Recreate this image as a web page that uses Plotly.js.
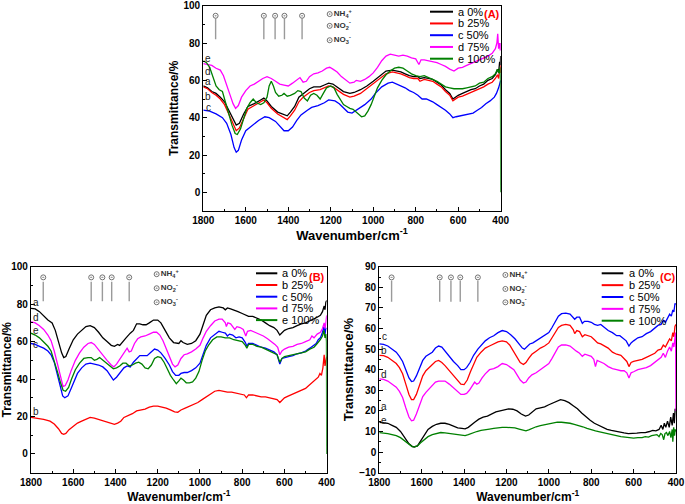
<!DOCTYPE html>
<html><head><meta charset="utf-8">
<script src="https://cdn.plot.ly/plotly-3.0.1.min.js"></script>
<style>html,body{margin:0;padding:0;background:#fff}#chart{width:685px;height:504px}</style>
</head><body><div id="chart"></div>
<script>
// ---------- data ----------
const seriesNames = ['a 0%', 'b 25%', 'c 50%', 'd 75%', 'e 100%'];
const seriesLetters = ['a', 'b', 'c', 'd', 'e'];
const seriesColors = ['#000000', '#ff0000', '#0000ff', '#ff00ff', '#008000'];
const panelTags = ['(A)', '(B)', '(C)'];

// Panel A: [wavenumber, transmittance]
const A_a = [[1800,57],[1780,56],[1760,54],[1740,53],[1720,51],[1700,48.5],[1680,44],[1660,39],[1645,36],[1630,37],[1610,42],[1590,46],[1560,47.5],[1530,49.5],[1515,50.5],[1500,49],[1480,46],[1450,43],[1420,41.5],[1405,41],[1390,43],[1370,46],[1350,51],[1330,53],[1300,55.5],[1280,56.5],[1250,56.5],[1230,57.5],[1210,58.5],[1190,58],[1170,56.5],[1140,54],[1110,53],[1090,53.5],[1060,55],[1030,57],[1000,59.5],[970,62.5],[940,65],[910,65.5],[890,65],[870,64.5],[850,63.5],[830,62.5],[810,62],[790,62],[780,61],[760,61.5],[740,61],[720,60.5],[700,59],[680,57.5],[660,55],[640,53],[625,50],[615,51],[600,52],[580,53],[560,54],[540,55],[520,55.5],[500,57],[480,58],[460,60],[440,61],[425,63],[415,66],[410,64],[405,70],[402,68],[400,73]];
const A_b = [[1800,56.5],[1780,55.5],[1760,53.5],[1740,52],[1720,50],[1700,47],[1680,42],[1660,36.5],[1645,33],[1630,34.5],[1610,40],[1590,44.5],[1560,46.5],[1530,48.5],[1515,49.5],[1500,48],[1480,45],[1450,42],[1420,40],[1405,39],[1390,41],[1370,44],[1350,48.5],[1330,51],[1300,53.5],[1280,54.5],[1250,55],[1230,56],[1210,57],[1190,56.5],[1170,55],[1140,52.5],[1110,51],[1090,51.5],[1060,53],[1030,55.5],[1000,58],[970,61],[940,63.5],[910,64.5],[890,64],[870,63.5],[850,62.5],[830,61.5],[810,61],[790,61],[780,59.5],[760,60.5],[740,60],[720,59.5],[700,58],[680,56.5],[660,54],[640,52],[625,49],[615,50],[600,51],[580,51.5],[560,52.5],[540,53.5],[520,54.5],[500,55.5],[480,56.5],[460,58],[440,59],[425,61],[415,63],[410,61],[405,66],[402,64],[400,68]];
const A_c = [[1800,44],[1770,43.5],[1740,42],[1710,40],[1690,37],[1670,31],[1655,24],[1645,21.5],[1635,22.5],[1620,28],[1600,33],[1580,35],[1560,36.5],[1540,38.5],[1510,40.5],[1490,40],[1460,38],[1440,35.5],[1420,33],[1400,33],[1380,35],[1360,38.5],[1340,41.5],[1310,44],[1290,45.5],[1260,46.5],[1230,48],[1210,49.5],[1180,49],[1160,47.5],[1140,45.5],[1120,43],[1100,42.5],[1080,44],[1060,45.5],[1040,47],[1010,50],[990,53],[960,56.5],[930,58.5],[910,59],[890,58],[870,57],[850,56],[830,54.5],[810,53.5],[790,52],[770,50],[750,50],[720,48.5],[700,47],[680,45.5],[660,44],[640,42],[625,40],[610,40.5],[590,41],[570,41.5],[550,42],[530,42.5],[510,44],[490,45.5],[470,47.5],[450,49],[430,51],[420,53],[410,56],[405,59],[400,60]];
const A_d = [[1800,69],[1780,68.5],[1760,68],[1740,66.5],[1720,65.5],[1705,62.5],[1690,58],[1675,52.5],[1660,47.5],[1648,45],[1635,46.5],[1620,51],[1600,54.5],[1580,57],[1560,58],[1540,59.5],[1520,61],[1500,62],[1480,61],[1460,59.5],[1440,58],[1420,57.5],[1400,57],[1380,58.5],[1360,60],[1345,61.5],[1330,59],[1315,59.5],[1300,62],[1280,63.5],[1260,64],[1240,65],[1220,66.5],[1205,67],[1190,66],[1170,64.5],[1150,62],[1130,60],[1110,58.5],[1090,59],[1080,60],[1060,59.5],[1040,60.5],[1020,62],[1000,64],[980,67],[960,70.5],[940,73],[920,74],[900,73.5],[880,73],[860,73.5],[840,73],[820,72],[800,71.5],[785,68.5],[775,71],[760,71],[740,70.5],[720,70],[700,69.5],[680,68.5],[660,67.5],[640,66],[620,65],[600,66.5],[580,67],[560,68],[540,69],[520,70],[500,71],[480,72],[460,73],[440,74.5],[425,77],[418,80],[414,85],[410,77],[405,80],[402,76],[400,80]];
const A_e = [[1800,70.5],[1785,69.5],[1770,67],[1755,62],[1740,57],[1725,55],[1710,54],[1695,48],[1680,42],[1665,36],[1650,31.5],[1640,31],[1625,34],[1610,40],[1595,45],[1580,48],[1565,50],[1550,48],[1530,47],[1515,48],[1500,51],[1490,57],[1480,59.5],[1470,57],[1460,53.5],[1445,51.5],[1430,52],[1420,53],[1405,51.5],[1390,52],[1370,53],[1355,54.5],[1340,54],[1325,50.5],[1310,49],[1295,52],[1280,53],[1265,52],[1250,50],[1235,53],[1220,56],[1200,57],[1185,56],[1170,52.5],[1155,50],[1140,47],[1125,46],[1110,45],[1095,44.5],[1080,43],[1065,41],[1055,40.5],[1040,41],[1025,43.5],[1010,47],[995,52],[980,56],[960,60],[940,63],[920,65],[900,66.5],[880,67],[860,66.5],[840,65],[820,63.5],[800,62.5],[780,62],[760,62.5],[740,61.5],[720,60.5],[700,59.5],[680,58],[660,56.5],[640,56],[620,55.5],[600,55.5],[580,55.5],[560,56],[540,56.5],[520,57],[500,58.5],[480,59],[460,61],[440,62],[425,63.5],[415,66],[408,64],[403,67],[401,60],[400,0]];

// Panel B
const B_a = [[1800,77.8],[1780,77.5],[1760,76],[1740,73.5],[1720,71.5],[1700,70],[1685,66],[1670,60],[1655,54],[1645,51.5],[1635,52],[1620,56],[1600,61],[1580,64],[1560,66],[1540,68],[1520,68.5],[1500,67.5],[1480,65],[1460,62],[1440,60],[1420,58],[1405,57.5],[1390,58.5],[1380,58],[1370,59.5],[1350,62],[1330,64.5],[1315,66],[1300,69.5],[1285,69.5],[1270,69],[1255,69],[1240,70],[1220,71.5],[1200,71.5],[1185,70],[1165,66],[1145,62],[1125,59.5],[1110,59],[1100,59],[1090,60.5],[1080,59.5],[1060,58.5],[1040,59],[1020,60.5],[1000,64],[985,69],[970,74],[950,77],[930,78],[910,78.5],[890,78],[880,77],[870,78],[855,77.5],[840,77],[820,76],[800,75],[780,74],[770,73.5],[750,73.5],[730,72.5],[710,71.5],[690,70],[670,68.5],[650,67.5],[635,66],[622,63.5],[610,65],[600,66],[580,67],[560,67.5],[540,68.5],[520,69.5],[500,70],[480,71],[460,72],[445,73],[430,74],[420,76],[412,79],[408,77],[404,81],[400,82]];
const B_b = [[1800,19.5],[1770,19.2],[1740,18.5],[1710,17.5],[1690,16],[1670,13.5],[1655,11],[1645,10.5],[1635,11],[1620,13],[1600,15],[1580,16.5],[1560,17.5],[1540,18.5],[1520,19.5],[1500,19.2],[1480,18.5],[1460,17.8],[1440,17],[1420,16],[1405,15.8],[1390,16.5],[1375,17.5],[1360,19.5],[1340,20.5],[1320,21.5],[1300,23],[1280,23.5],[1260,24],[1240,25],[1220,25.5],[1200,25.5],[1180,25],[1160,24.5],[1140,23.5],[1120,22.5],[1105,22.3],[1090,23.5],[1070,24.5],[1050,25.5],[1030,26.5],[1010,27.5],[990,29],[970,30.5],[950,32],[930,33.5],[910,34],[890,33.5],[870,33],[850,33],[830,32.5],[810,32],[790,31.5],[780,30],[770,31.5],[750,31.5],[730,31],[710,30.5],[690,30.5],[670,30],[650,29.5],[635,29],[622,27.5],[610,29],[600,30],[580,31],[560,32],[540,33],[520,34],[500,35],[490,36],[480,37],[470,38],[460,39],[450,40],[440,41],[432,43],[425,42],[418,46],[412,53],[408,47],[404,50],[400,52]];
const B_c = [[1800,59],[1780,58.5],[1760,57.5],[1740,56.5],[1720,55],[1705,53],[1690,49],[1675,42],[1662,35],[1650,31],[1640,30],[1625,31],[1610,35],[1595,39.5],[1580,43],[1560,46],[1540,48],[1520,48.5],[1500,48],[1480,47.5],[1460,46.5],[1440,44.5],[1425,42],[1410,39.5],[1395,41],[1380,43],[1360,46],[1345,47],[1330,46.5],[1315,49],[1300,51],[1285,52.5],[1265,52.5],[1250,52.5],[1235,54],[1215,56],[1200,55.5],[1185,54],[1165,51],[1145,47.5],[1130,44],[1115,42],[1100,42],[1090,43],[1075,43.5],[1060,43.5],[1040,44.5],[1020,46],[1000,48.5],[985,53],[970,58],[950,62],[930,64],[910,65.5],[895,65],[880,64.5],[870,63],[860,64],[845,63.5],[830,62],[815,62.5],[800,62],[785,59.5],[778,57.5],[770,59],[750,59],[730,58],[710,57],[690,56.5],[670,55.5],[650,54.5],[635,53],[622,48],[612,51],[600,51.5],[580,52],[560,52.5],[540,53.5],[520,54],[500,55],[480,56.5],[465,58],[450,59],[440,61],[430,62],[420,65],[413,68],[408,64],[404,67],[400,67]];
const B_d = [[1800,70.5],[1780,70],[1760,68.5],[1740,66.5],[1720,63.5],[1705,60.5],[1690,55],[1675,48],[1660,40.5],[1648,36],[1638,36.5],[1625,39.5],[1610,44.5],[1590,50],[1570,54],[1550,57],[1530,59],[1515,59.5],[1500,58.5],[1480,55.5],[1460,52.5],[1440,50],[1420,47.5],[1408,46.5],[1395,48],[1380,50.5],[1360,54],[1345,56.5],[1335,54.5],[1325,55],[1310,59],[1295,61.5],[1280,62.5],[1260,63],[1240,64],[1220,65],[1205,65],[1190,63.5],[1175,60.5],[1160,56.5],[1145,51.5],[1130,48],[1118,46.5],[1105,47.5],[1090,51],[1075,53],[1060,53.5],[1040,54.5],[1020,56],[1000,58],[985,62],[970,65.5],[950,68.5],[930,71],[910,72],[895,72],[880,70],[875,68],[868,70],[855,69.5],[845,68],[835,66.5],[825,68],[810,67.5],[795,66.5],[783,63],[775,65.5],[760,66],[740,65],[720,64],[700,63],[680,61.5],[660,60],[645,58.5],[632,57],[622,53],[612,55],[600,56],[580,57],[560,57.5],[540,58.5],[520,59],[500,60],[480,61],[470,63],[460,62],[445,64],[430,65],[420,67],[412,70],[407,67],[403,72],[400,74]];
const B_e = [[1800,64.5],[1780,63.5],[1760,62],[1740,60],[1720,57.5],[1705,55],[1690,50],[1675,44],[1660,38],[1648,34],[1636,33.5],[1622,35.5],[1608,40],[1590,45],[1570,48.5],[1550,51],[1530,51.5],[1515,51.5],[1500,50],[1488,50.5],[1475,51.5],[1460,50],[1440,48],[1425,46.5],[1410,45.5],[1395,46],[1380,47],[1365,48.5],[1350,48.5],[1335,47],[1320,47.5],[1305,48.5],[1290,49],[1275,48],[1260,46],[1245,45.5],[1230,47.5],[1215,51],[1200,52],[1185,51.5],[1170,49],[1155,45.5],[1140,42],[1125,39.5],[1112,37.5],[1100,39],[1090,40.5],[1078,39.5],[1065,38],[1050,38],[1035,38.5],[1020,40.5],[1005,44],[990,50],[975,55],[960,58],[940,61],[920,62.5],[900,62.5],[880,62],[860,62],[840,61],[820,60.5],[800,60],[785,58],[778,56.5],[770,58.5],[750,58.5],[730,57.5],[710,57],[690,56],[670,55],[650,54],[635,53],[622,49],[612,51],[600,52],[580,52.5],[560,53],[540,53.5],[520,54],[500,54.5],[480,56],[460,57],[445,59],[430,61],[420,63],[413,66],[408,62],[403,64],[401,60],[400,0]];

// Panel C
const C_a = [[1800,14.5],[1780,14.3],[1760,14],[1740,13],[1720,12],[1700,10],[1680,7],[1660,4],[1645,2.8],[1635,2.5],[1620,3],[1605,5.5],[1590,8],[1570,11],[1550,12.5],[1530,13.5],[1510,14],[1490,14],[1470,13.5],[1450,12.5],[1430,11.8],[1410,11.5],[1395,11.3],[1380,12],[1365,13.5],[1350,14.5],[1330,16],[1310,17],[1290,17.5],[1270,18.5],[1250,19.5],[1230,20],[1210,20.5],[1190,21],[1170,20.8],[1150,20],[1130,18.5],[1110,17.5],[1095,18],[1080,19.5],[1060,21],[1040,21.5],[1020,22],[1000,23],[980,24],[960,25],[945,25.5],[925,25],[905,24],[885,22.5],[865,21],[845,19],[825,17],[805,15.5],[785,14],[765,13],[745,12],[725,11],[705,10.5],[685,10],[665,9.5],[645,9.3],[625,9],[605,9],[585,9.2],[565,9.5],[545,9.5],[525,10],[510,10.5],[495,10.3],[480,11],[470,13],[462,11],[455,14],[448,12],[440,15],[432,12],[425,17],[418,13],[412,19],[408,14],[404,21],[400,20]];
const C_b = [[1800,47],[1780,46.8],[1760,46],[1740,44.5],[1720,43],[1705,41],[1690,38],[1675,33],[1660,28],[1648,25.5],[1638,25.5],[1625,28],[1610,32.5],[1595,37],[1580,39.5],[1565,41],[1550,42.5],[1535,44],[1520,44.5],[1505,43.5],[1490,42],[1470,39.5],[1450,37],[1430,35],[1415,33],[1400,32.8],[1385,35],[1370,39],[1355,43],[1340,46],[1320,48.5],[1300,50.5],[1280,51.5],[1260,52.5],[1240,53.5],[1220,54],[1200,53.5],[1185,52],[1170,49.5],[1150,46],[1135,43.5],[1120,42.5],[1108,43.5],[1095,45.5],[1080,47.5],[1060,49],[1040,50.5],[1020,51.5],[1000,53],[985,55.5],[970,58],[955,60.5],[940,61.5],[920,62],[900,61.5],[885,59.5],[878,57.5],[868,59],[855,58.5],[842,56],[830,57],[815,56.5],[800,56],[785,54.5],[770,53],[755,52.5],[740,51.5],[720,50.5],[700,48.5],[680,47.5],[660,47],[645,45.5],[632,44],[622,41.5],[612,43.5],[600,44],[580,44.5],[560,45],[540,46],[520,47],[500,48],[485,49.5],[470,50],[460,52],[450,51],[440,53],[430,55],[422,54],[415,58],[410,56],[405,61],[400,62]];
const C_c = [[1800,52.5],[1780,52.3],[1760,51.5],[1740,50],[1720,48.5],[1705,46.5],[1690,44],[1675,40],[1660,36],[1648,34.3],[1638,34.5],[1625,37],[1610,41],[1595,44.5],[1580,46.5],[1565,47.5],[1550,48.5],[1535,50.5],[1520,51.5],[1505,51],[1490,49],[1470,46.5],[1450,44],[1430,42],[1415,40],[1400,40],[1388,41],[1372,43.5],[1355,47],[1335,50],[1315,52.5],[1300,54],[1280,55.5],[1260,56.5],[1240,58],[1220,59],[1200,58.5],[1180,57],[1160,55],[1140,52.5],[1125,50.5],[1115,50],[1102,51.5],[1090,52.5],[1075,53],[1060,54],[1040,55.5],[1020,56.5],[1000,58],[985,60.5],[970,63.5],[955,66],[940,67.2],[920,67.5],[900,67],[885,65],[878,64.5],[868,65.5],[855,65.5],[842,62.5],[832,63.5],[815,63.5],[800,63],[785,62],[770,61.5],[755,62],[740,60.5],[720,59],[700,58],[680,56.5],[665,56.5],[650,55],[635,54],[622,51.5],[612,53],[600,54],[580,55.5],[560,56],[540,57.5],[520,58.5],[500,60],[485,61.5],[470,62],[460,64],[450,63],[440,65],[430,67],[422,66],[415,69],[410,68],[405,72],[400,72]];
const C_d = [[1800,35.5],[1780,35.3],[1760,34.5],[1740,33],[1720,31.5],[1705,29.5],[1690,26.5],[1675,21.5],[1660,17],[1648,15.2],[1638,15.5],[1625,18.5],[1610,23],[1595,27],[1580,29],[1565,30.5],[1550,32],[1535,34],[1520,34.5],[1505,34.5],[1490,34.5],[1470,33],[1450,31],[1430,29],[1415,28],[1400,28],[1388,28.5],[1375,30],[1360,32.5],[1350,34],[1340,33],[1330,33.5],[1315,36],[1300,38],[1280,40],[1260,40.5],[1240,41.5],[1220,43],[1200,42.5],[1180,41],[1165,40],[1150,37.5],[1135,35],[1120,33.5],[1108,34],[1095,36],[1080,37.5],[1060,38.5],[1040,40],[1020,41.5],[1000,43],[985,45.5],[970,48.5],[955,51],[940,52],[920,52],[900,51.5],[885,50],[870,49],[855,48],[842,46.5],[830,47.5],[815,47],[800,46.5],[788,45],[780,41.5],[772,44.5],[760,44],[740,43],[720,41.5],[700,40.5],[680,40],[660,39.5],[645,39.5],[632,38.5],[622,36],[612,38.5],[600,39],[580,40],[560,40.5],[540,41],[520,42],[500,43.5],[485,45],[470,46],[460,48],[450,46],[440,49],[430,51],[422,49],[415,53],[410,51],[405,56],[402,58],[400,20]];
const C_e = [[1800,9.5],[1780,9.3],[1760,9],[1740,8.5],[1720,8],[1700,7],[1680,5.5],[1660,3.8],[1645,2.7],[1635,2.5],[1620,3],[1605,4.5],[1590,6],[1570,7.5],[1550,8.5],[1530,9],[1510,9.5],[1490,9.3],[1470,9],[1450,8.5],[1430,8.3],[1410,8],[1395,8],[1380,8.5],[1360,9.3],[1340,10],[1320,10.5],[1300,11],[1280,11.2],[1260,11.5],[1240,11.8],[1220,12],[1200,12],[1180,12],[1160,11.8],[1140,11.2],[1120,10.5],[1108,10.3],[1095,10.8],[1080,11.5],[1060,12.3],[1040,12.8],[1020,13.2],[1000,13.5],[980,14],[960,14.5],[940,14.5],[920,14.3],[900,14],[880,13.5],[860,13],[840,12.3],[820,11.5],[800,10.8],[780,10.3],[760,9.8],[740,9.3],[720,8.8],[700,8.3],[680,7.8],[660,7.5],[640,7.3],[620,7],[600,6.8],[580,7],[560,7],[545,7.5],[530,7.3],[515,8],[500,8.3],[490,8.5],[480,7.5],[472,9],[465,8.5],[458,6],[452,9],[445,9.5],[438,8],[430,10],[424,7],[418,11],[415,5],[411,12],[407,8],[404,11],[400,10]];

// peak marker annotations (wavenumbers) and ion key
const peakWn = [1742, 1515, 1462, 1418, 1335];
const peakMarkY = [94.6, 94.3, 84.8];
const peakLineTop = [93.2, 92, 83.2];
const peakLineBottom = [82, 81.5, 73];
const ionLabels = ['NH<sub>4</sub><sup>+</sup>', 'NO<sub>2</sub><sup>-</sup>', 'NO<sub>3</sub><sup>-</sup>'];
const ionWn = 1205;
const ionY_A = [95.5, 89.2, 81.5];
const ionY_B = [96, 88.5, 81];
const ionY_C = [86, 79.2, 72.7];

// curve letter label heights (order a..e)
const labelWn = 1777;
const labelY_A = [59.2, 51.3, 45.2, 65, 71.8];
const labelY_B = [81, 22.9, 58.6, 73, 65.9];
const labelY_C = [22.3, 49.5, 56, 37.7, 15.3];

// y axis settings
const yRanges = [[-10, 100], [-10, 100], [-10, 90]];
const yDticks = [20, 20, 10];

// ---------- build ----------
const W = 685, H = 504;
const FAMILY = 'Liberation Sans, Arial, sans-serif';
const fx = p => p / W, fy = p => 1 - p / H;
const panels = [
  {series:[A_a,A_b,A_c,A_d,A_e], ion:ionY_A, lab:labelY_A, xs:'', px:[203.3,500.7], py:[5.7,211],
   leg:{x0:430,x1:453,tx:456,y0:11.7,dy:11.75}, tag:{x:491.5,y:13.8}, xt:13, yt:12},
  {series:[B_a,B_b,B_c,B_d,B_e], ion:ionY_B, lab:labelY_B, xs:'2', px:[31,326.7], py:[266.7,472.7],
   leg:{x0:256,x1:277.3,tx:280,y0:273.3,dy:11.7}, tag:{x:316.7,y:276.7}, xt:12, yt:12},
  {series:[C_a,C_b,C_c,C_d,C_e], ion:ionY_C, lab:labelY_C, xs:'3', px:[379.3,676], py:[266.7,472.7],
   leg:{x0:601.7,x1:623.3,tx:626.7,y0:273.3,dy:11.85}, tag:{x:667.5,y:276.7}, xt:12, yt:13}
];

const traces = [], shapes = [], annotations = [];
const layout = {
  width: W, height: H, margin:{l:0,r:0,t:0,b:0}, showlegend:false,
  paper_bgcolor:'#fff', plot_bgcolor:'#fff',
  font:{family:FAMILY, size:11, color:'#000'}
};

panels.forEach((p, i) => {
  const xa = 'x' + p.xs, ya = 'y' + p.xs;
  // peak lines & markers
  const lx = [], ly = [];
  peakWn.forEach(w => { lx.push(w, w, null); ly.push(peakLineTop[i], peakLineBottom[i], null); });
  traces.push({x:lx, y:ly, xaxis:xa, yaxis:ya, mode:'lines', line:{color:'#9a9a9a', width:1.4}, hoverinfo:'skip'});
  traces.push({x:peakWn, y:peakWn.map(() => peakMarkY[i]), xaxis:xa, yaxis:ya, mode:'markers',
    marker:{symbol:'circle-open-dot', size:5, color:'#707070', line:{width:1}}, hoverinfo:'skip'});
  traces.push({x:p.ion.map(() => ionWn), y:p.ion, xaxis:xa, yaxis:ya, mode:'markers+text',
    text:ionLabels, textposition:'middle right',
    textfont:{family:FAMILY, size:8, color:'#333', weight:'bold'},
    marker:{symbol:'circle-open-dot', size:5, color:'#707070', line:{width:1}}, hoverinfo:'skip'});
  // spectra
  p.series.forEach((s, k) => {
    traces.push({x:s.map(d => d[0]), y:s.map(d => d[1]), xaxis:xa, yaxis:ya, mode:'lines',
      name:seriesNames[k], line:{color:seriesColors[k], width:1.3}});
    annotations.push({x:labelWn, y:p.lab[k], xref:xa, yref:ya, text:seriesLetters[k], showarrow:false,
      font:{family:FAMILY, size:10, color:'#222'}, xanchor:'center', yanchor:'middle'});
    // manual legend
    const yy = fy(p.leg.y0 + k * p.leg.dy);
    shapes.push({type:'line', xref:'paper', yref:'paper', x0:fx(p.leg.x0), x1:fx(p.leg.x1), y0:yy, y1:yy,
      line:{color:seriesColors[k], width:2}});
    annotations.push({x:fx(p.leg.tx), y:yy, xref:'paper', yref:'paper', text:seriesNames[k], showarrow:false,
      xanchor:'left', yanchor:'middle', font:{family:FAMILY, size:11, color:'#000'}});
  });
  annotations.push({x:fx(p.tag.x), y:fy(p.tag.y), xref:'paper', yref:'paper', text:panelTags[i], showarrow:false,
    xanchor:'center', yanchor:'middle', font:{family:FAMILY, size:11, color:'#ff0000', weight:'bold'}});

  const common = {showline:true, linecolor:'#000', linewidth:1.2, mirror:true, showgrid:false, zeroline:false,
    ticks:'inside', ticklen:4, tickwidth:1, tickcolor:'#000',
    tickfont:{family:FAMILY, size:10, color:'#000', weight:'bold'}};
  layout['xaxis' + p.xs] = Object.assign({}, common, {
    domain:[fx(p.px[0]), fx(p.px[1])], anchor:ya, range:[1800, 400], tick0:400, dtick:200,
    minor:{dtick:100, ticks:'inside', ticklen:2, tickcolor:'#000'},
    title:{text:'Wavenumber/cm<sup>-1</sup>', font:{family:FAMILY, size:p.xt, weight:'bold'}, standoff:3}
  });
  layout['yaxis' + p.xs] = Object.assign({}, common, {
    domain:[fy(p.py[1]), fy(p.py[0])], anchor:xa, range:yRanges[i], tick0:0, dtick:yDticks[i],
    minor:{dtick:yDticks[i] / 2, ticks:'inside', ticklen:2, tickcolor:'#000'},
    title:{text:'Transmittance/%', font:{family:FAMILY, size:p.yt, weight:'bold'}, standoff:2}
  });
});
layout.shapes = shapes;
layout.annotations = annotations;

Plotly.newPlot('chart', traces, layout, {displayModeBar:false});
</script></body></html>
